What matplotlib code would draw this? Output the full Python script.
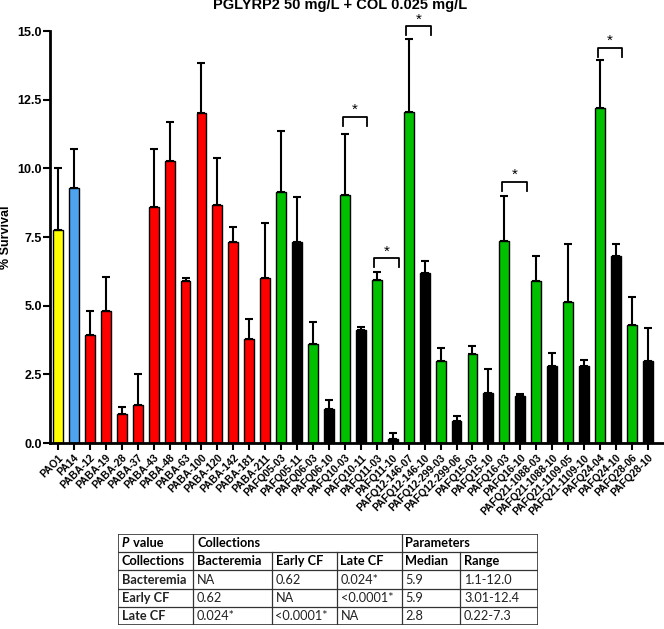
import matplotlib
matplotlib.use("Agg")
import matplotlib.pyplot as plt
import numpy as np

plt.rcParams['font.family'] = ['Liberation Sans', 'DejaVu Sans']

# strains, group and % survival (mean, upper error)
strains = ['PAO1', 'PA14',
           'PABA-12', 'PABA-19', 'PABA-28', 'PABA-37', 'PABA-43', 'PABA-48',
           'PABA-63', 'PABA-100', 'PABA-120', 'PABA-142', 'PABA-181', 'PABA-211',
           'PAFQ05-03', 'PAFQ05-11', 'PAFQ06-03', 'PAFQ06-10', 'PAFQ10-03', 'PAFQ10-11',
           'PAFQ11-03', 'PAFQ11-10', 'PAFQ12-146-07', 'PAFQ12-146-10', 'PAFQ12-299-03',
           'PAFQ12-299-06', 'PAFQ15-03', 'PAFQ15-10', 'PAFQ16-03', 'PAFQ16-10',
           'PAFQ21-1088-03', 'PAFQ21-1088-10', 'PAFQ21-1109-05', 'PAFQ21-1109-10',
           'PAFQ24-04', 'PAFQ24-10', 'PAFQ28-06', 'PAFQ28-10']
groups = ['ref1', 'ref2'] + ['bact'] * 12 + ['early', 'late'] * 12
survival = [7.75, 9.3,
            3.95, 4.8, 1.05, 1.4, 8.6, 10.28, 5.88, 12.02, 8.68, 7.32, 3.78, 6.0,
            9.15, 7.3, 3.62, 1.25, 9.03, 4.13, 5.95, 0.15, 12.06, 6.2, 2.98,
            0.8, 3.23, 1.83, 7.37, 1.7, 5.9, 2.8, 5.15, 2.82, 12.18, 6.82,
            4.28, 2.98]
err = [2.25, 1.4,
       0.85, 1.25, 0.25, 1.1, 2.1, 1.42, 0.12, 1.83, 1.7, 0.56, 0.72, 2.0,
       2.2, 1.65, 0.78, 0.3, 2.22, 0.1, 0.28, 0.2, 2.64, 0.44, 0.47,
       0.2, 0.3, 0.88, 1.63, 0.08, 0.92, 0.48, 2.1, 0.2, 1.75, 0.41,
       1.02, 1.22]
# significant pairs (index of first bar) and bracket height
sig_pairs = [18, 20, 22, 28, 34]
sig_heights = [11.88, 6.73, 15.18, 9.51, 14.39]

group_colors = {'ref1': '#FFFF00', 'ref2': '#4DA3F0', 'bact': '#FF0000',
                'early': '#00C000', 'late': '#000000'}

title = 'PGLYRP2 50 mg/L + COL 0.025 mg/L'

# table contents
tbl_header = ['P value', 'Collections', 'Parameters']
tbl_cols = ['Collections', 'Bacteremia', 'Early CF', 'Late CF', 'Median', 'Range']
tbl_rows = [['Bacteremia', 'NA', '0.62', '0.024*', '5.9', '1.1-12.0'],
            ['Early CF', '0.62', 'NA', '<0.0001*', '5.9', '3.01-12.4'],
            ['Late CF', '0.024*', '<0.0001*', 'NA', '2.8', '0.22-7.3']]

fig = plt.figure(figsize=(6.64, 6.29), dpi=100)
ax = fig.add_axes([50 / 664, 186 / 629, 613 / 664, 412 / 629])

x = np.arange(len(strains))
cols = [group_colors[g] for g in groups]
ax.bar(x, survival, width=0.62, color=cols, edgecolor='black', linewidth=1.0, zorder=2)
ax.errorbar(x, survival, yerr=[np.zeros(len(err)), err], fmt='none',
            ecolor='black', elinewidth=1.5, capsize=3, capthick=1.5, zorder=1)

for i, h in zip(sig_pairs, sig_heights):
    x0, x1 = i - 0.15, i + 1.4
    ax.plot([x0, x0, x1, x1], [h - 0.33, h, h, h - 0.33], color='black',
            lw=1.3, clip_on=False)
    ax.text((x0 + x1) / 2, h + 0.24, '*', ha='center', va='center',
            fontsize=11, clip_on=False)

ax.set_xlim(-0.5, 37.95)
ax.set_ylim(0, 15)
ax.set_yticks([0, 2.5, 5, 7.5, 10, 12.5, 15])
ax.set_yticklabels(['0.0', '2.5', '5.0', '7.5', '10.0', '12.5', '15.0'],
                   fontsize=9, fontweight='bold')
ax.set_xticks(x)
ax.set_xticklabels(strains, rotation=45, ha='right', rotation_mode='anchor',
                   fontsize=7.5, fontweight='bold')
ax.tick_params(axis='both', direction='out', length=5, width=1.5, pad=2)
ax.tick_params(axis='y', pad=1)
for s in ['top', 'right']:
    ax.spines[s].set_visible(False)
for s in ['left', 'bottom']:
    ax.spines[s].set_linewidth(2)
ax.set_ylabel('% Survival', fontsize=9, fontweight='bold', labelpad=4)
fig.text(340 / 664, 1 - 5.5 / 629, title, ha='center', va='center',
         fontsize=10.5, fontweight='bold')

# table drawn with lines and text
tx = fig.add_axes([118 / 664, 4 / 629, 420 / 664, 91 / 629])
tx.set_xlim(0, 420)
tx.set_ylim(5, 0)
tx.axis('off')
edges = [0, 75, 153.5, 218.5, 283.5, 342, 420]
lc = '#333333'
for r in range(6):
    tx.plot([0, 420], [r, r], color=lc, lw=1.2 if r in (0, 5) else 0.9)
for c, e in enumerate(edges):
    if e in (0, 75, 283.5, 420):
        tx.plot([e, e], [0, 5], color=lc, lw=1.2 if e in (0, 420) else 0.9)
    else:
        tx.plot([e, e], [1, 5], color=lc, lw=0.9)

tfont = dict(family=['Lato', 'DejaVu Sans'], fontsize=9.2, va='center', ha='left')
tx.text(edges[0] + 4, 0.5, 'P', style='italic', fontweight='bold', **tfont)
tx.text(edges[0] + 12, 0.5, ' value', fontweight='bold', **tfont)
tx.text(edges[1] + 4, 0.5, tbl_header[1], fontweight='bold', **tfont)
tx.text(edges[4] + 4, 0.5, tbl_header[2], fontweight='bold', **tfont)
for c, lab in enumerate(tbl_cols):
    tx.text(edges[c] + 4, 1.5, lab, fontweight='bold', **tfont)
for r, row in enumerate(tbl_rows):
    for c, val in enumerate(row):
        tx.text(edges[c] + 4, r + 2.5, val, color='#222222',
                fontweight='bold' if c == 0 else 'normal', **tfont)

fig.savefig('out.png', dpi=100)
